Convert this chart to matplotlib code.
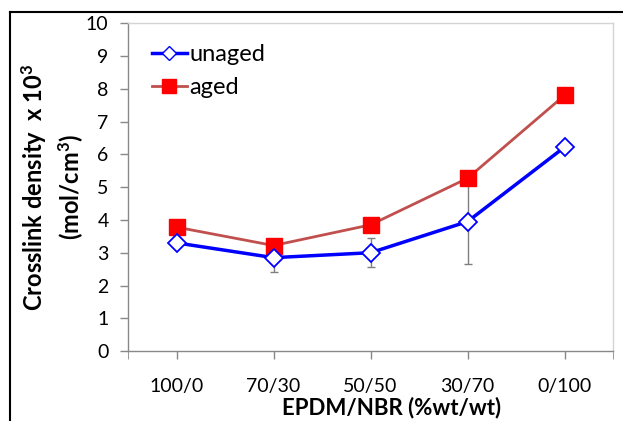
import matplotlib
matplotlib.use("Agg")
import matplotlib.pyplot as plt
from matplotlib.lines import Line2D

# Crosslink density of EPDM/NBR blends
blends = ["100/0", "70/30", "50/50", "30/70", "0/100"]
unaged = [3.30, 2.85, 3.00, 3.95, 6.22]
unaged_err = [0.10, 0.45, 0.45, 1.30, 0.10]
aged = [3.78, 3.22, 3.85, 5.27, 7.80]

plt.rcParams["font.family"] = ["Lato", "DejaVu Sans"]
plt.rcParams["mathtext.fontset"] = "custom"
plt.rcParams["mathtext.rm"] = "Lato"
plt.rcParams["mathtext.bf"] = "Lato:bold"

fig = plt.figure(figsize=(6.23, 4.21), dpi=100)
ax = fig.add_axes([0.2055, 0.166, 0.7785, 0.779])

x = list(range(len(blends)))

ax.errorbar(x, unaged, yerr=unaged_err, fmt="none", ecolor="#7f7f7f",
            elinewidth=1.0, capsize=3, capthick=1.0, zorder=2)
ax.plot(x, aged, color="#C0504D", lw=2.0, marker="s", markersize=11,
        markerfacecolor="#FF0000", markeredgecolor="#FF0000", zorder=3,
        label="aged")
ax.plot(x, unaged, color="#0000FF", lw=2.5, marker="D", markersize=9,
        markerfacecolor="white", markeredgecolor="#0000FF",
        markeredgewidth=1.3, zorder=4, label="unaged")

ax.set_xlim(-0.5, len(blends) - 0.5)
ax.set_ylim(0, 10)
ax.set_yticks(range(0, 11))
ax.set_xticks(x)
ax.set_xticklabels(blends)
ax.set_xticks([-0.5, len(blends) - 0.5], minor=True)

ax.tick_params(axis="both", labelsize=14, color="#888888", length=6,
               width=1.0, labelcolor="black")
ax.tick_params(axis="x", which="minor", length=6, color="#888888")
ax.tick_params(axis="x", pad=13)
ax.tick_params(axis="y", pad=8)

for side in ("left", "bottom"):
    ax.spines[side].set_color("#888888")
    ax.spines[side].set_linewidth(1.0)
for side in ("top", "right"):
    ax.spines[side].set_color("#d4d4d4")
    ax.spines[side].set_linewidth(1.0)

ax.set_xlabel("EPDM/NBR (%wt/wt)", fontsize=16, fontweight="bold")
ax.xaxis.set_label_coords(0.544, -0.138)
ax.set_ylabel("Crosslink density  x 10$\\mathbf{^3}$\n(mol/cm$\\mathbf{^3}$)",
              fontsize=17, fontweight="bold", labelpad=0, linespacing=1.3)

handles = [
    Line2D([], [], color="#0000FF", lw=2.5, marker="D", markersize=7.5,
           markerfacecolor="white", markeredgecolor="#0000FF"),
    Line2D([], [], color="#C0504D", lw=2.0, marker="s", markersize=10,
           markerfacecolor="#FF0000", markeredgecolor="#FF0000"),
]
ax.legend(handles, ["unaged", "aged"], loc="upper left",
          bbox_to_anchor=(0.005, 1.0), frameon=False, fontsize=17,
          handlelength=1.5, handletextpad=0.1, labelspacing=0.5)

# outer frame
fig.add_artist(Line2D([10 / 623, 10 / 623], [0, 1 - 12 / 421],
                      transform=fig.transFigure, color="black", lw=1.5))
fig.add_artist(Line2D([10 / 623, 1], [1 - 12 / 421, 1 - 12 / 421],
                      transform=fig.transFigure, color="black", lw=1.5))

fig.savefig("out.png", dpi=100)
